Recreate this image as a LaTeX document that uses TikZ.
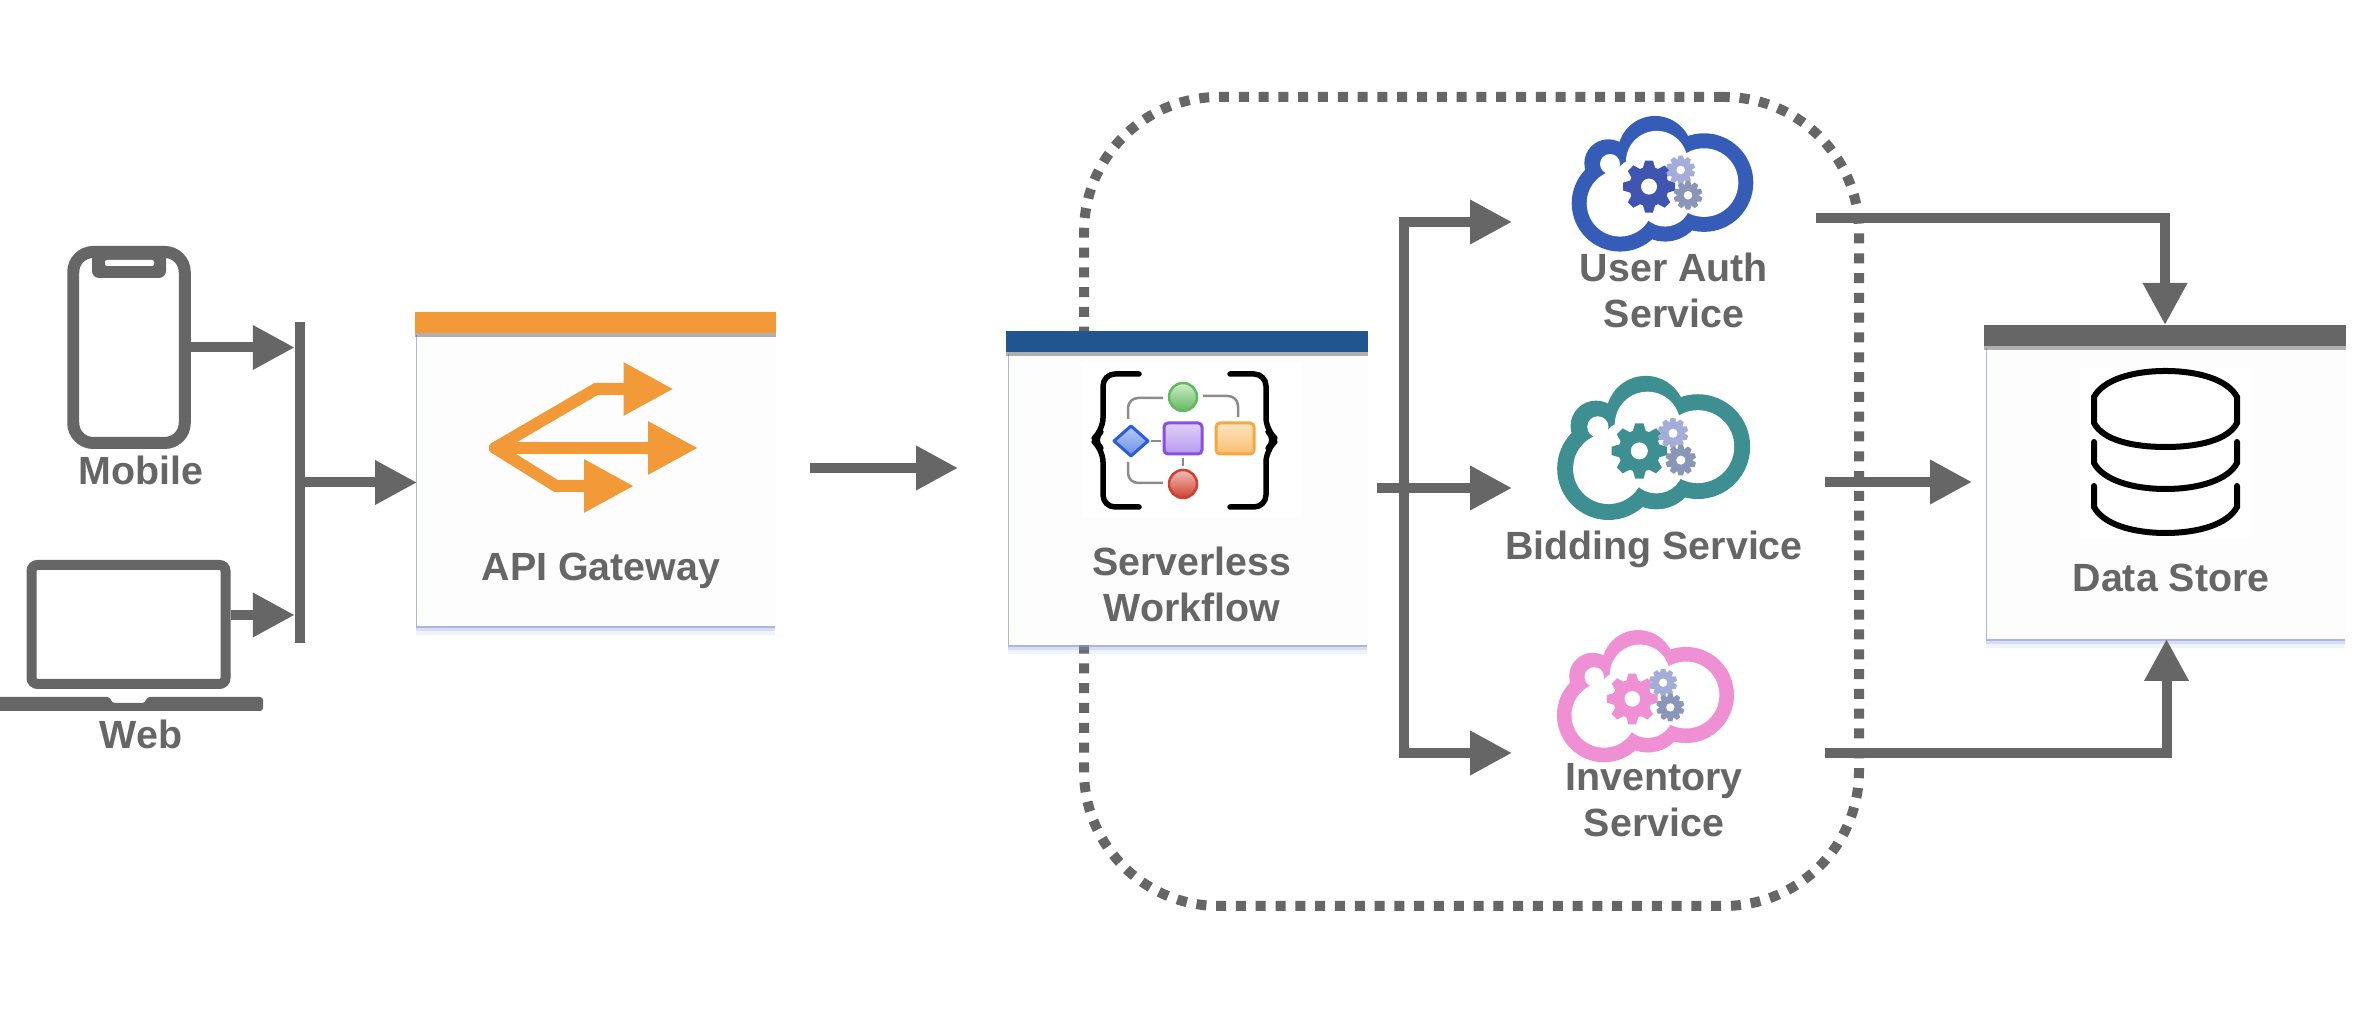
\documentclass[tikz,border=0pt]{standalone}
\usepackage{fontspec}
\setmainfont{Liberation Sans}
\usetikzlibrary{arrows.meta, shadows}

\definecolor{flowgray}{HTML}{666666}
\definecolor{apiorange}{HTML}{F29A38}
\definecolor{flowblue}{HTML}{205590}
\definecolor{cardfill}{HTML}{FDFDFD}
\definecolor{cardedge}{HTML}{8E9CD8}
\definecolor{authblue}{HTML}{355DB8}
\definecolor{authgear}{HTML}{3F55B0}
\definecolor{bidteal}{HTML}{3E8F92}
\definecolor{invpink}{HTML}{F090D4}
\definecolor{gearlight}{HTML}{A4ADD8}
\definecolor{geardark}{HTML}{8A96B8}

\newcommand{\cloudgear}[6]{% x, y, outer radius, hole radius, colour, tooth step
	\fill[#5] (#1,#2) circle[radius=0.76*#3];
	\foreach \a in {0,#6,...,359} {
		\fill[#5, shift={(#1,#2)}, rotate=\a] (-0.24*#3,0.7*#3) -- (-0.15*#3,#3) -- (0.15*#3,#3) -- (0.24*#3,0.7*#3) -- cycle;
	}
	\fill[white] (#1,#2) circle[radius=#4];
}

\tikzset{
	pics/cloud icon/.style 2 args={code={
		% Lobes of the cloud, then the inside cut out in white
		\fill[#1] (-0.40,-0.20) circle[radius=0.483] (0.44,0.007) circle[radius=0.493] (-0.05,0.30) circle[radius=0.373] (-0.517,0.20) circle[radius=0.24] (0.05,-0.20) circle[radius=0.383];
		\fill[white] (-0.40,-0.20) circle[radius=0.333] (0.44,0.007) circle[radius=0.343] (-0.033,0.217) circle[radius=0.307] (-0.50,0.193) circle[radius=0.10] (-0.267,0.067) circle[radius=0.167] (0.05,-0.173) circle[radius=0.26] (0,0) circle[radius=0.333];
		% Gears
		\cloudgear{-0.11}{-0.033}{0.26}{0.08}{#2}{45}
		\cloudgear{0.207}{0.133}{0.143}{0.043}{gearlight}{36}
		\cloudgear{0.28}{-0.12}{0.143}{0.043}{geardark}{36}
	}}
}

\begin{document}
\begin{tikzpicture}[
		flow/.style={flowgray, line width=0.1cm, -{Triangle[length=0.42cm, width=0.42cm]}},
		api arrow/.style={apiorange, line width=0.12cm, line cap=round, -{Triangle[length=0.5cm, width=0.5cm]}},
		card/.style={fill=cardfill, inner sep=0pt, outer sep=0pt, minimum width=#1, minimum height=2.93cm,
			drop shadow={shadow xshift=-0.015cm, shadow yshift=-0.09cm, fill=cardedge, opacity=0.12},
			drop shadow={shadow xshift=-0.015cm, shadow yshift=-0.05cm, fill=cardedge, opacity=0.25},
			drop shadow={shadow xshift=-0.015cm, shadow yshift=-0.02cm, fill=cardedge, opacity=0.6}},
		card bar/.style={fill=#1, inner sep=0pt, outer sep=0pt, minimum height=0.21cm,
			drop shadow={shadow xshift=0cm, shadow yshift=-0.04cm, fill=black, opacity=0.3}},
		device/.style={draw=flowgray, inner sep=0pt},
		box text/.style={text=flowgray, anchor=base, align=center, font=\bfseries\fontsize{11.2}{13.1}\selectfont},
		icon link/.style={black!45, line width=0.025cm, rounded corners=0.1cm},
		brace line/.style={black, line width=0.055cm, line cap=round, line join=round, rounded corners=0.12cm},
		db line/.style={black, line width=0.06cm, line cap=round}
		]
		\useasboundingbox (0,0) rectangle (23.76,10.2);
		
		% =========================================================
		% Dotted region around workflow and services
		% =========================================================
		\node[draw=flowgray, line width=0.1cm, dash pattern=on 0.1cm off 0.098cm, rounded corners=1.35cm, inner sep=0pt, minimum width=7.75cm, minimum height=8.09cm] (region) at (14.715,5.185) {};
		
		% =========================================================
		% Clients
		% =========================================================
		\node[device, line width=0.12cm, rounded corners=0.2cm, minimum width=1.115cm, minimum height=1.91cm] (mobile) at (1.29,6.725) {};
		\fill[flowgray, rounded corners=0.07cm] (0.92,7.72) -- (0.92,7.42) -- (1.66,7.42) -- (1.66,7.72) -- cycle;
		\fill[white, rounded corners=0.02cm] (1.05,7.60) rectangle (1.54,7.54);
		\node[box text] (mobile label) at (1.41,5.35) {Mobile};
		
		\node[device, line width=0.1cm, rounded corners=0.06cm, minimum width=1.94cm, minimum height=1.19cm] (web) at (1.285,3.955) {};
		\fill[flowgray, rounded corners=0.03cm] (-0.1,3.23) -- (1.10,3.23) -- (1.12,3.17) -- (1.45,3.17) -- (1.47,3.23) -- (2.63,3.23) -- (2.63,3.09) -- (-0.1,3.09) -- cycle;
		\node[box text] (web label) at (1.41,2.71) {Web};
		
		\node[fill=flowgray, inner sep=0pt, outer sep=0pt, minimum width=0.105cm, minimum height=3.21cm] (bus) at (3.00,5.375) {};
		
		% =========================================================
		% API Gateway
		% =========================================================
		\node[card=3.59cm] (gateway) at (5.965,5.405) {};
		\node[card bar=apiorange, minimum width=3.61cm] (gateway bar) at (5.955,6.975) {};
		\draw[api arrow] (4.95,5.72) -- (5.96,6.31) -- (6.735,6.31);
		\draw[api arrow] (4.95,5.72) -- (6.98,5.72);
		\draw[api arrow] (4.95,5.72) -- (5.56,5.34) -- (6.34,5.34);
		\node[box text] (gateway label) at (6.01,4.39) {API Gateway};
		
		% =========================================================
		% Serverless Workflow
		% =========================================================
		\node[card=3.59cm] (workflow) at (11.885,5.215) {};
		\node[card bar=flowblue, minimum width=3.62cm] (workflow bar) at (11.87,6.785) {};
		\fill[white] (10.82,5.03) rectangle (13.01,6.58);
		
		% Braces
		\draw[brace line] (11.39,6.46) -- (11.03,6.46) -- (11.03,5.90) -- (10.92,5.80) -- (11.03,5.70) -- (11.03,5.13) -- (11.39,5.13);
		\draw[brace line] (12.30,6.46) -- (12.66,6.46) -- (12.66,5.90) -- (12.77,5.80) -- (12.66,5.70) -- (12.66,5.13) -- (12.30,5.13);
		
		% Flowchart links and shapes
		\draw[icon link] (11.28,6.01) |- (11.63,6.22);
		\draw[icon link] (12.03,6.24) -| (12.38,6.03);
		\draw[icon link] (11.28,5.58) |- (11.63,5.37);
		\draw[icon link] (11.51,5.79) -- (11.61,5.79);
		\draw[icon link] (11.83,5.62) -- (11.83,5.54);
		\draw[draw={rgb,255:red,96;green,184;blue,96}, line width=0.025cm, top color={rgb,255:red,207;green,239;blue,200}, bottom color={rgb,255:red,96;green,184;blue,96}] (11.83,6.23) circle[radius=0.14];
		\draw[draw={rgb,255:red,208;green,64;blue,48}, line width=0.025cm, top color={rgb,255:red,240;green,192;blue,184}, bottom color={rgb,255:red,208;green,64;blue,48}] (11.83,5.36) circle[radius=0.14];
		\draw[draw={rgb,255:red,44;green,92;blue,224}, line width=0.03cm, line join=round, top color={rgb,255:red,184;green,204;blue,245}, bottom color={rgb,255:red,106;green,144;blue,232}] (11.14,5.79) -- (11.31,5.94) -- (11.48,5.79) -- (11.31,5.64) -- cycle;
		\draw[draw={rgb,255:red,138;green,79;blue,224}, line width=0.03cm, rounded corners=0.04cm, top color={rgb,255:red,224;green,208;blue,248}, bottom color={rgb,255:red,184;green,154;blue,240}] (11.64,5.66) rectangle (12.02,5.97);
		\draw[draw={rgb,255:red,245;green,167;blue,66}, line width=0.03cm, rounded corners=0.04cm, top color={rgb,255:red,252;green,229;blue,192}, bottom color={rgb,255:red,249;green,190;blue,112}] (12.16,5.66) rectangle (12.54,5.97);
		\node[box text] (workflow label) at (11.92,3.98) {Serverless\\Workflow};
		
		% =========================================================
		% Services
		% =========================================================
		\pic at (16.60,8.367) {cloud icon={authblue}{authgear}};
		\node[box text] (auth label) at (16.74,6.92) {User Auth\\Service};
		
		\pic[scale=1.063] at (16.51,5.726) {cloud icon={bidteal}{bidteal}};
		\node[box text] (bid label) at (16.54,4.60) {Bidding Service};
		
		\pic[scale=0.975] at (16.43,3.243) {cloud icon={invpink}{invpink}};
		\node[box text] (inv label) at (16.54,1.83) {Inventory\\Service};
		
		% =========================================================
		% Data Store
		% =========================================================
		\node[card=3.59cm] (store) at (21.665,5.275) {};
		\node[card bar=flowgray, minimum width=3.62cm] (store bar) at (21.65,6.845) {};
		\fill[white] (20.81,4.82) rectangle (22.50,6.52);
		\draw[db line] (20.94,6.23) .. controls (21.03,6.40) and (21.32,6.49) .. (21.655,6.49) .. controls (21.99,6.49) and (22.28,6.40) .. (22.37,6.23) -- (22.37,5.97) .. controls (22.28,5.80) and (21.99,5.73) .. (21.655,5.73) .. controls (21.32,5.73) and (21.03,5.80) .. (20.94,5.97) -- cycle;
		\foreach \s in {0,0.44} {
			\draw[db line, yshift=-\s cm] (20.94,5.78) -- (20.94,5.57) .. controls (21.03,5.40) and (21.32,5.31) .. (21.655,5.31) .. controls (21.99,5.31) and (22.28,5.40) .. (22.37,5.57) -- (22.37,5.78);
		}
		\node[box text] (store label) at (21.71,4.28) {Data Store};
		
		% =========================================================
		% Connectors
		% =========================================================
		\coordinate (gateway out) at (8.10,5.52);
		\coordinate (workflow in) at (9.58,5.52);
		\coordinate (workflow out) at (13.77,5.32);
		\coordinate (fork) at (14.04,5.32);
		\coordinate (auth in) at (15.12,7.98);
		\coordinate (bid in) at (15.12,5.32);
		\coordinate (inv in) at (15.12,2.67);
		\coordinate (auth out) at (18.16,8.02);
		\coordinate (bid out) at (18.25,5.38);
		\coordinate (inv out) at (18.25,2.67);
		\coordinate (store in) at (19.72,5.38);
		
		\draw[flow] (mobile.east) -- (mobile.east -| bus.west);
		\draw[flow] ([yshift=0.095cm]web.east) -- ([yshift=0.095cm]web.east -| bus.west);
		\draw[flow] (bus.east) -- (bus.east -| gateway.west);
		\draw[flow] (gateway out) -- (workflow in);
		\draw[flow] (workflow out) -- (bid in);
		\draw[flow] (fork) |- (auth in);
		\draw[flow] (fork) |- (inv in);
		\draw[flow] (auth out) -| (store bar.north);
		\draw[flow] (bid out) -- (store in);
		\draw[flow] (inv out) -| (store.south);
		
	\end{tikzpicture}
\end{document}
